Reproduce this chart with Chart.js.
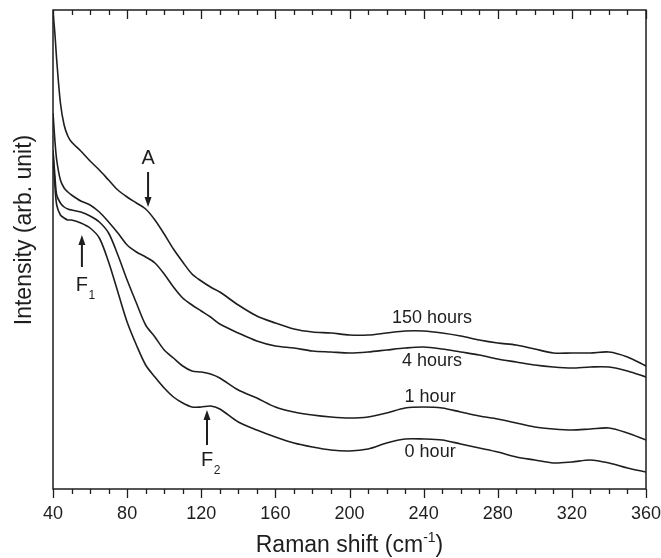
<!DOCTYPE html>
<html>
<head>
<meta charset="utf-8">
<script src="https://cdn.jsdelivr.net/npm/chart.js@4.4.1/dist/chart.umd.min.js"></script>
<style>
  html, body { margin: 0; padding: 0; background: #fff; }
  #wrap { width: 661px; height: 558px; }
</style>
</head>
<body>
<div id="wrap"><canvas id="raman"></canvas></div>
<script>
// Raman shift (cm-1) sampled along the curves
const shifts = [40, 41, 42, 44, 46, 48, 50, 55, 60, 65, 70, 75, 80, 85, 90, 95, 100, 105, 110, 115, 120, 125, 130,
  140, 150, 160, 170, 180, 190, 200, 210, 220, 230, 240, 250, 260, 270, 280, 290, 300, 310, 320, 330, 340, 350, 360];

// intensity, arbitrary units
const hours150 = [476, 455, 428, 385, 363, 352, 346, 337, 327, 318, 308, 298, 291, 285, 279, 268, 254, 239, 226, 214, 207, 201, 196,
  183, 172, 165, 159, 156, 155, 153, 153, 155, 157, 157, 155, 152, 148, 145, 143, 139, 135, 135, 135, 136, 131, 122];
const hours4 = [375, 348, 328, 308, 300, 296, 293, 287, 283, 276, 266, 255, 243, 236, 231, 225, 214, 201, 190, 183, 177, 171, 164,
  155, 147, 142, 140, 137, 136, 135, 136, 138, 140, 141, 139, 136, 133, 129, 126, 123, 121, 120, 121, 121, 117, 111];
const hours1 = [338, 313, 293, 285, 281, 279, 278, 276, 272, 266, 255, 233, 208, 185, 163, 151, 138, 130, 122, 117, 116, 114, 110,
  98, 90, 81, 76, 73, 71, 70, 71, 75, 80, 81, 80, 76, 72, 69, 65, 61, 59, 58, 59, 60, 55, 48];
const hours0 = [336, 303, 283, 273, 270, 268, 268, 265, 260, 250, 226, 196, 166, 143, 123, 111, 100, 91, 85, 81, 81, 82, 79,
  66, 58, 51, 45, 41, 38, 37, 39, 45, 49, 49, 48, 44, 40, 36, 31, 28, 25, 26, 28, 25, 20, 16];

const xTicks = [40, 80, 120, 160, 200, 240, 280, 320, 360];

const curveLabels = [
  { text: '150 hours', x: 244.5, y: 170 },
  { text: '4 hours', x: 244.5, y: 127 },
  { text: '1 hour', x: 243.5, y: 91 },
  { text: '0 hour', x: 243.5, y: 36 }
];
// arrows: x position, tip and tail intensity, label
const arrows = [
  { x: 91.3, tip: 281, tail: 316, label: 'A', sub: '', ly: 330 },
  { x: 55.6, tip: 253, tail: 221, label: 'F', sub: '1', ly: 203 },
  { x: 123.1, tip: 78, tail: 43, label: 'F', sub: '2', ly: 28 }
];

const FONT = '"Liberation Sans", Arial, sans-serif';
const INK = '#1e1e1e';

function series(vals) {
  return shifts.map((x, i) => ({ x: x, y: vals[i] }));
}

const frame = {
  id: 'frame',
  afterDraw(chart) {
    const c = chart.ctx, a = chart.chartArea;
    const xs = chart.scales.x, ys = chart.scales.y;
    c.save();
    c.strokeStyle = INK;
    c.lineWidth = 1.5;
    c.strokeRect(a.left, a.top, a.right - a.left, a.bottom - a.top);

    // ticks: bottom outward, top inward
    c.lineWidth = 1.3;
    for (let v = 40; v <= 360; v += 10) {
      const px = Math.round(xs.getPixelForValue(v)) + 0.5;
      const len = v % 40 === 0 ? 9 : 5;
      c.beginPath();
      c.moveTo(px, a.bottom); c.lineTo(px, a.bottom + len);
      c.moveTo(px, a.top); c.lineTo(px, a.top + len);
      c.stroke();
    }

    c.fillStyle = INK;
    c.font = '18px ' + FONT;
    c.textAlign = 'center';
    c.textBaseline = 'middle';
    xTicks.forEach(v => c.fillText(String(v), xs.getPixelForValue(v), a.bottom + 25));

    // x title with superscript
    c.font = '23px ' + FONT;
    c.textBaseline = 'alphabetic';
    const t1 = 'Raman shift (cm', t2 = '-1', t3 = ')';
    const w1 = c.measureText(t1).width, w3 = c.measureText(t3).width;
    c.font = '14px ' + FONT;
    const w2 = c.measureText(t2).width;
    let sx = (a.left + a.right) / 2 - (w1 + w2 + w3) / 2;
    const base = 552;
    c.textAlign = 'left';
    c.font = '23px ' + FONT;
    c.fillText(t1, sx, base);
    c.font = '14px ' + FONT;
    c.fillText(t2, sx + w1, base - 10);
    c.font = '23px ' + FONT;
    c.fillText(t3, sx + w1 + w2, base);

    // y title
    c.save();
    c.translate(25, 230);
    c.rotate(-Math.PI / 2);
    c.textAlign = 'center';
    c.textBaseline = 'middle';
    c.fillText('Intensity (arb. unit)', 0, 0);
    c.restore();

    // curve labels
    c.font = '18px ' + FONT;
    c.textAlign = 'center';
    c.textBaseline = 'middle';
    curveLabels.forEach(l => c.fillText(l.text, xs.getPixelForValue(l.x), ys.getPixelForValue(l.y)));

    // arrows
    arrows.forEach(ar => {
      const px = xs.getPixelForValue(ar.x);
      const tip = ys.getPixelForValue(ar.tip), tail = ys.getPixelForValue(ar.tail);
      const dir = tip > tail ? 1 : -1;
      c.lineWidth = 2;
      c.beginPath();
      c.moveTo(px, tail);
      c.lineTo(px, tip - dir * 8);
      c.stroke();
      c.beginPath();
      c.moveTo(px, tip);
      c.lineTo(px - 3.5, tip - dir * 10);
      c.lineTo(px + 3.5, tip - dir * 10);
      c.closePath();
      c.fill();
      const ly = ys.getPixelForValue(ar.ly);
      c.font = '20px ' + FONT;
      c.textAlign = 'center';
      c.fillText(ar.label, px, ly);
      if (ar.sub) {
        c.font = '12px ' + FONT;
        c.fillText(ar.sub, px + 10, ly + 11);
      }
    });
    c.restore();
  }
};

const lineStyle = { borderColor: INK, borderWidth: 1.6, pointRadius: 0, tension: 0.3, fill: false };

new Chart(document.getElementById('raman'), {
  type: 'line',
  data: {
    datasets: [
      Object.assign({ label: '150 hours', data: series(hours150) }, lineStyle),
      Object.assign({ label: '4 hours', data: series(hours4) }, lineStyle),
      Object.assign({ label: '1 hour', data: series(hours1) }, lineStyle),
      Object.assign({ label: '0 hour', data: series(hours0) }, lineStyle)
    ]
  },
  options: {
    responsive: true,
    maintainAspectRatio: false,
    animation: false,
    layout: { padding: { left: 53, right: 15, top: 10, bottom: 69 } },
    plugins: { legend: { display: false }, tooltip: { enabled: false } },
    scales: {
      x: { type: 'linear', min: 40, max: 360, display: false },
      y: { min: -1, max: 478, display: false }
    }
  },
  plugins: [frame]
});
</script>
</body>
</html>
